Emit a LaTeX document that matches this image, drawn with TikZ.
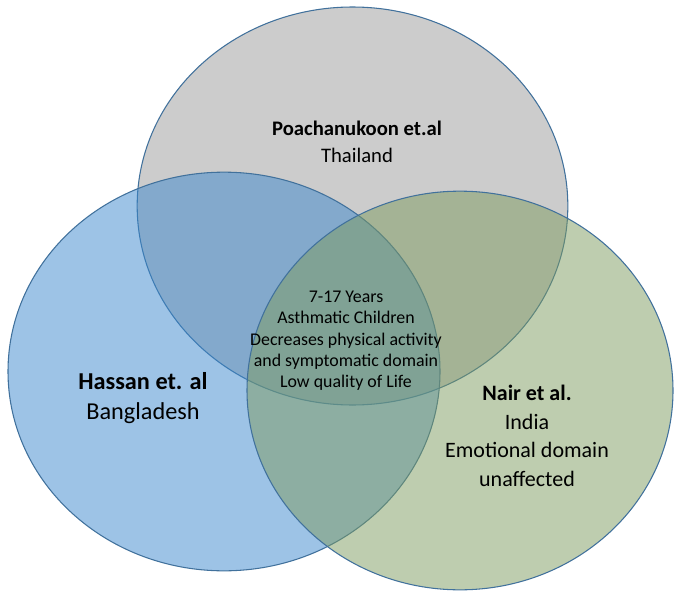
\documentclass[tikz,border=0pt]{standalone}
\usepackage{fontspec}
\setmainfont{Carlito}
\usetikzlibrary{shapes.geometric}

\definecolor{rand}{RGB}{65,113,156}
\definecolor{grau}{RGB}{153,153,153}
\definecolor{blau}{RGB}{59,135,205}
\definecolor{gruen}{RGB}{125,155,95}

\begin{document}
\begin{tikzpicture}[x=0.75pt, y=-0.75pt,
    menge/.style={ellipse, draw=rand, line width=0.8pt, fill opacity=0.5, inner sep=0pt},
    studie/.style={align=center, font=\fontsize{16.5}{20.5}\selectfont, inner sep=0pt},
    mitte/.style={align=center, font=\fontsize{13.4}{16}\selectfont, inner sep=0pt}]

    \useasboundingbox (0,0) rectangle (674,592);

    % Mengen
    \node[menge, fill=grau, minimum width=323pt, minimum height=298.5pt] (P) at (352.5,206) {};
    \node[menge, fill=blau, minimum width=324pt, minimum height=299pt] (H) at (224,371.5) {};
    \node[menge, fill=gruen, minimum width=319.5pt, minimum height=299pt] (N) at (460,390.5) {};

    % Texte
    \node[studie, font=\fontsize{15.5}{20}\selectfont] (Ptext) at (357,142) {\textbf{Poachanukoon et.al}\\Thailand};
    \node[studie, font=\fontsize{18.2}{22.5}\selectfont] (Htext) at (143,398.5) {\textbf{Hassan et. al}\\Bangladesh};
    \node[studie, font=\fontsize{16.5}{21.5}\selectfont] (Ntext) at (527,436) {\textbf{Nair et al.}\\India\\Emotional domain\\unaffected};
    \node[mitte] (Mtext) at (346,341) {7-17 Years\\Asthmatic Children\\Decreases physical activity\\and symptomatic domain\\Low quality of Life};

\end{tikzpicture}
\end{document}
